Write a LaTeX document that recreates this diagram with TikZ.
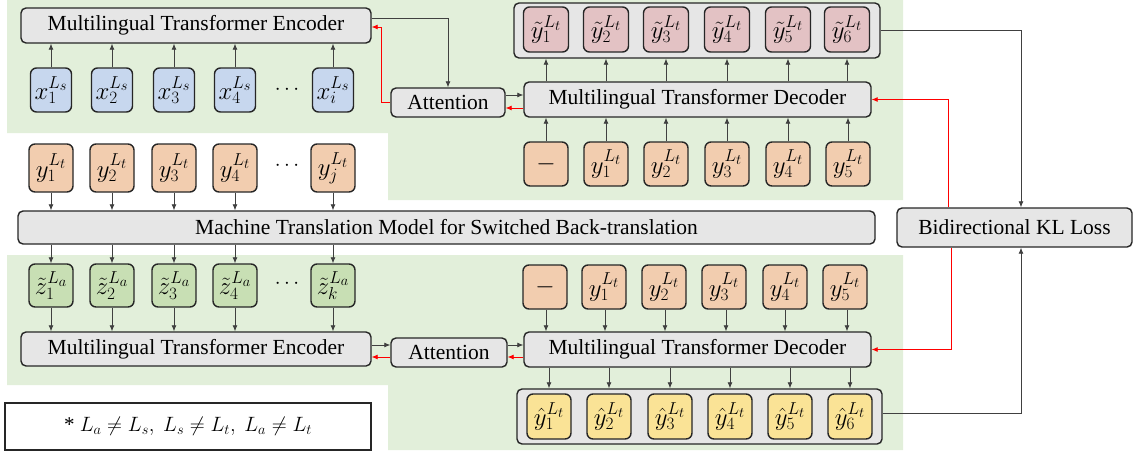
\documentclass[tikz,border=0pt]{standalone}
\usepackage{fontspec}
\setmainfont{Liberation Serif}
\usetikzlibrary{arrows.meta}
\DeclareMathSizes{23}{23}{17.5}{14}

\definecolor{bggreen}{HTML}{E2EFDA}
\definecolor{boxgrey}{HTML}{E6E6E6}
\definecolor{tokblue}{HTML}{C7D7EE}
\definecolor{tokpink}{HTML}{E3C2C4}
\definecolor{tokorange}{HTML}{F2CDAF}
\definecolor{tokgreen}{HTML}{C8DFB4}
\definecolor{tokyellow}{HTML}{FAE396}

\tikzset{
    box/.style={draw=black!85, line width=1.4pt, rounded corners=5pt, fill=boxgrey,
        inner sep=0pt, font=\fontsize{21.5}{24}\selectfont},
    tok/.style={draw=black!85, line width=1.4pt, rounded corners=6pt, inner sep=0pt,
        minimum width=44pt, minimum height=44pt, font=\fontsize{23}{25}\selectfont},
    arr/.style={-{Latex[length=6pt,width=5pt]}, black!75, line width=0.8pt},
    redarr/.style={-{Latex[length=6pt,width=5pt]}, red, line width=0.8pt},
}

\begin{document}
\begin{tikzpicture}[x=1pt,y=-1pt]
    \useasboundingbox (0,0) rectangle (1137,453);
    % green panels
    \fill[bggreen] (7,0) -- (903,0) -- (903,200) -- (388,200) -- (388,133) -- (7,133) -- cycle;
    \fill[bggreen] (7,255) -- (903,255) -- (903,450) -- (388,450) -- (388,385) -- (7,385) -- cycle;

    % upper branch
    \node[box, minimum width=350pt, minimum height=35pt] (enc1) at (196,25.5) {Multilingual Transformer Encoder};
    \foreach \i/\x in {1/51,2/112,3/174,4/235} {
        \node[tok, fill=tokblue, minimum width=41pt] (x\i) at (\x,90) {$x_{\i}^{L_s}$};
    }
    \node[tok, fill=tokblue, minimum width=41pt] (x5) at (333,90) {$x_{i}^{L_s}$};
    \node[font=\fontsize{20}{22}\selectfont] (xdots) at (287,90) {$\cdots$};
    \foreach \i in {1,...,5} {
        \draw [arr] (x\i.north) -- (x\i |- enc1.south);
    }

    \node[box, minimum width=114pt, minimum height=29pt] (att1) at (448,102.5) {Attention};
    \node[box, minimum width=347pt, minimum height=35pt] (dec1) at (697.5,99.5) {Multilingual Transformer Decoder};
    \node[box, minimum width=366pt, minimum height=55pt] (outtop) at (697,30.5) {};
    \foreach \i/\x in {1/546,2/606,3/666,4/727,5/788,6/847} {
        \node[tok, fill=tokpink, minimum width=45pt, minimum height=45pt] (p\i) at (\x,29.5) {$\tilde{y}_{\i}^{L_t}$};
        \draw [arr] (p\i |- dec1.north) -- (p\i |- outtop.south);
    }
    \node[tok, fill=tokorange] (a0) at (546,164) {$-$};
    \foreach \i/\x in {1/606,2/666,3/727,4/788,5/848} {
        \node[tok, fill=tokorange] (a\i) at (\x,164) {$y_{\i}^{L_t}$};
    }
    \foreach \i in {0,...,5} {
        \draw [arr] (a\i.north) -- (a\i |- dec1.south);
    }

    \draw [arr] ([yshift=7.5pt]enc1.east) -| (att1.north);
    \draw [redarr] (att1.west) -- ++(-9,0) |- ([yshift=-1.5pt]enc1.east);
    \draw [arr] ([yshift=7.5pt]att1.east) -- ([yshift=7.5pt]att1.east -| dec1.west);
    \draw [redarr] ([yshift=-5.5pt]att1.east -| dec1.west) -- ([yshift=-5.5pt]att1.east);

    % shared translation model
    \foreach \i/\x in {1/51,2/112,3/174,4/235} {
        \node[tok, fill=tokorange, minimum height=48pt] (y\i) at (\x,168) {$y_{\i}^{L_t}$};
    }
    \node[tok, fill=tokorange, minimum height=48pt] (y5) at (333,168) {$y_{j}^{L_t}$};
    \node[font=\fontsize{20}{22}\selectfont] (ydots) at (287,166) {$\cdots$};
    \node[box, minimum width=857pt, minimum height=33pt] (mt) at (446.5,227.5) {Machine Translation Model for Switched Back-translation};

    \foreach \i/\x in {1/51,2/112,3/174,4/235} {
        \node[tok, fill=tokgreen, minimum height=43pt] (z\i) at (\x,285.5) {$\tilde{z}_{\i}^{L_a}$};
    }
    \node[tok, fill=tokgreen, minimum height=43pt] (z5) at (333,285.5) {$\tilde{z}_{k}^{L_a}$};
    \node[font=\fontsize{20}{22}\selectfont] (zdots) at (287,284) {$\cdots$};
    \foreach \i in {1,...,5} {
        \draw [arr] (y\i.south) -- (y\i |- mt.north);
        \draw [arr] (z\i |- mt.south) -- (z\i.north);
    }

    % lower branch
    \node[box, minimum width=350pt, minimum height=34pt] (enc2) at (196,349) {Multilingual Transformer Encoder};
    \node[box, minimum width=116pt, minimum height=29pt] (att2) at (449,352.5) {Attention};
    \node[box, minimum width=347pt, minimum height=35pt] (dec2) at (697.5,349.5) {Multilingual Transformer Decoder};
    \foreach \i in {1,...,5} {
        \draw [arr] (z\i.south) -- (z\i |- enc2.north);
    }
    \node[tok, fill=tokorange] (b0) at (545,287) {$-$};
    \foreach \i/\x in {1/604,2/664,3/724,4/785,5/845} {
        \node[tok, fill=tokorange] (b\i) at (\x,287) {$y_{\i}^{L_t}$};
    }
    \foreach \i/\x in {0/546,1/605,2/665,3/726,4/785,5/847} {
        \draw [arr] (\x,0 |- b\i.south) -- (\x,0 |- dec2.north);
    }
    \node[box, minimum width=365pt, minimum height=55pt] (outbot) at (699.5,416.5) {};
    \foreach \i/\x in {1/549,2/609,3/670,4/730,5/790,6/850} {
        \node[tok, fill=tokyellow, minimum height=45pt] (h\i) at (\x,416.5) {$\hat{y}_{\i}^{L_t}$};
        \draw [arr] (h\i |- dec2.south) -- (h\i |- outbot.north);
    }

    \draw [arr] ([yshift=7.5pt]att2.west -| enc2.east) -- ([yshift=7.5pt]att2.west);
    \draw [redarr] ([yshift=-4.5pt]att2.west) -- ([yshift=-4.5pt]att2.west -| enc2.east);
    \draw [arr] ([yshift=7.5pt]att2.east) -- ([yshift=7.5pt]att2.east -| dec2.west);
    \draw [redarr] ([yshift=-4.5pt]att2.east -| dec2.west) -- ([yshift=-4.5pt]att2.east);

    % loss
    \node[box, minimum width=235pt, minimum height=39pt] (kl) at (1014.5,227.5) {Bidirectional KL Loss};
    \draw [arr] (outtop.east) -| ([xshift=6.5pt]kl.north);
    \draw [arr] ([yshift=3.5pt]outbot.east) -| ([xshift=6.5pt]kl.south);
    \draw [redarr] ([xshift=-66.5pt]kl.north) |- (dec1.east);
    \draw [redarr] ([xshift=-63.5pt]kl.south) |- (dec2.east);

    \node[draw=black!85, fill=white, line width=1.4pt, minimum width=366pt, minimum height=47pt,
        font=\fontsize{21}{23}\selectfont] (note) at (188,426.5) {* $L_a \neq L_s,\ L_s \neq L_t,\ L_a \neq L_t$};
\end{tikzpicture}
\end{document}
